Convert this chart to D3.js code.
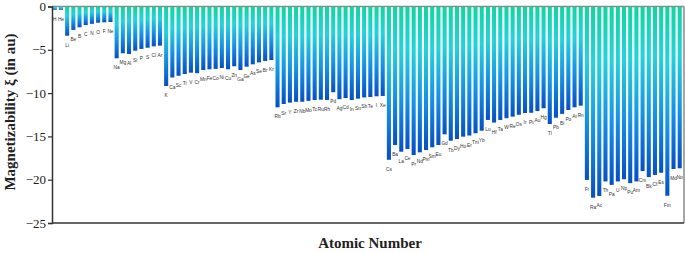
<!DOCTYPE html>
<html><head><meta charset="utf-8">
<script src="https://cdn.jsdelivr.net/npm/d3@7"></script>
<style>body{margin:0;background:#fff}svg{display:block}</style>
</head><body><svg id="c" width="685" height="253"></svg>
<script>
const elements = ["H","He","Li","Be","B","C","N","O","F","Ne","Na","Mg","Al","Si","P","S","Cl","Ar","K","Ca","Sc","Ti","V","Cr","Mn","Fe","Co","Ni","Cu","Zn","Ga","Ge","As","Se","Br","Kr","Rb","Sr","Y","Zr","Nb","Mo","Tc","Ru","Rh","Pd","Ag","Cd","In","Sn","Sb","Te","I","Xe","Cs","Ba","La","Ce","Pr","Nd","Pm","Sm","Eu","Gd","Tb","Dy","Ho","Er","Tm","Yb","Lu","Hf","Ta","W","Re","Os","Ir","Pt","Au","Hg","Tl","Pb","Bi","Po","At","Rn","Fr","Ra","Ac","Th","Pa","U","Np","Pu","Am","Cm","Bk","Cf","Es","Fm","Md","No"];
const magnetizability = [-0.38,-0.38,-3.37,-2.7,-2.4,-2.14,-2.0,-1.87,-1.83,-1.79,
 -5.98,-5.4,-5.48,-5.1,-4.9,-4.76,-4.6,-4.52,
 -9.18,-8.2,-8.0,-7.8,-7.64,-7.7,-7.33,-7.25,-7.2,-7.1,-7.25,-6.9,-7.33,-6.95,-6.68,-6.45,-6.29,-6.18,
 -11.64,-11.26,-11.1,-11.0,-11.0,-10.9,-10.8,-10.76,-10.8,-9.9,-10.7,-10.57,-10.8,-10.64,-10.5,-10.45,-10.37,-10.33,
 -17.7,-16.0,-16.77,-16.45,-17.15,-16.84,-16.57,-16.26,-16.0,-14.76,-15.5,-15.3,-15.03,-14.9,-14.64,-14.34,
 -13.1,-13.4,-13.1,-12.9,-12.72,-12.5,-12.3,-12.27,-12.07,-11.75,-13.57,-12.84,-12.4,-11.95,-11.64,-11.45,
 -20.03,-22.08,-21.88,-20.2,-20.6,-20.2,-19.95,-20.4,-20.2,-19.0,-19.7,-19.45,-19.2,-21.85,-18.76,-18.68];
const yTicks = [0,-5,-10,-15,-20,-25];

const svg = d3.select("#c");
const L=52, R=684, T=6.5, B=223;
const x = d3.scaleBand().domain(elements).range([L, 682.5]).paddingInner(0.34).paddingOuter(0.12);
const y = d3.scaleLinear().domain([0,-25]).range([T,B]);

const defs = svg.append("defs");
const g = defs.append("linearGradient").attr("id","grad").attr("x1",0).attr("y1",0).attr("x2",0).attr("y2",1);
g.append("stop").attr("offset","0%").attr("stop-color","#0fd6a0");
g.append("stop").attr("offset","30%").attr("stop-color","#25d2dc");
g.append("stop").attr("offset","65%").attr("stop-color","#1592e6");
g.append("stop").attr("offset","100%").attr("stop-color","#0650c2");

svg.append("line").attr("x1",L).attr("x2",R).attr("y1",T).attr("y2",T).attr("stroke","#8a8a8a").attr("stroke-width",1.5);
svg.append("line").attr("x1",R).attr("x2",R).attr("y1",T).attr("y2",B).attr("stroke","#8a8a8a").attr("stroke-width",1.5);

svg.append("g").selectAll("rect").data(elements).join("rect")
  .attr("x", d=>x(d)).attr("width", x.bandwidth())
  .attr("y", y(0)+0.5).attr("height",(d,i)=>y(magnetizability[i])-y(0)-0.5)
  .attr("fill","url(#grad)");

svg.append("g").selectAll("text").data(elements).join("text")
  .attr("x", d=>x(d)+x.bandwidth()/2)
  .attr("y",(d,i)=>y(magnetizability[i])+11)
  .attr("text-anchor","middle")
  .attr("font-family","Liberation Sans, Arial, sans-serif")
  .attr("font-size",4.8).attr("fill","#333")
  .text(d=>d);

const ya = svg.append("g").attr("transform",`translate(${L},0)`)
  .call(d3.axisLeft(y).tickValues(yTicks).tickSize(4).tickFormat(d3.format("d")));
ya.select(".domain").attr("stroke","#333").attr("stroke-width",1.5);
ya.selectAll(".tick line").attr("stroke","#333").attr("stroke-width",1.2);
ya.selectAll(".tick text").attr("font-family","Liberation Serif, Times New Roman, serif").attr("font-size",13).attr("fill","#222").attr("x",-6);

svg.append("line").attr("x1",L).attr("x2",R).attr("y1",B).attr("y2",B).attr("stroke","#333").attr("stroke-width",1.5);

svg.append("text").attr("transform","translate(15,112) rotate(-90)")
  .attr("text-anchor","middle").attr("font-family","Liberation Serif, Times New Roman, serif")
  .attr("font-weight","bold").attr("font-size",15).attr("fill","#222")
  .text("Magnetizability ξ (in au)");

svg.append("text").attr("x",370).attr("y",248).attr("text-anchor","middle")
  .attr("font-family","Liberation Serif, Times New Roman, serif")
  .attr("font-weight","bold").attr("font-size",15).attr("fill","#222")
  .text("Atomic Number");
</script></body></html>
